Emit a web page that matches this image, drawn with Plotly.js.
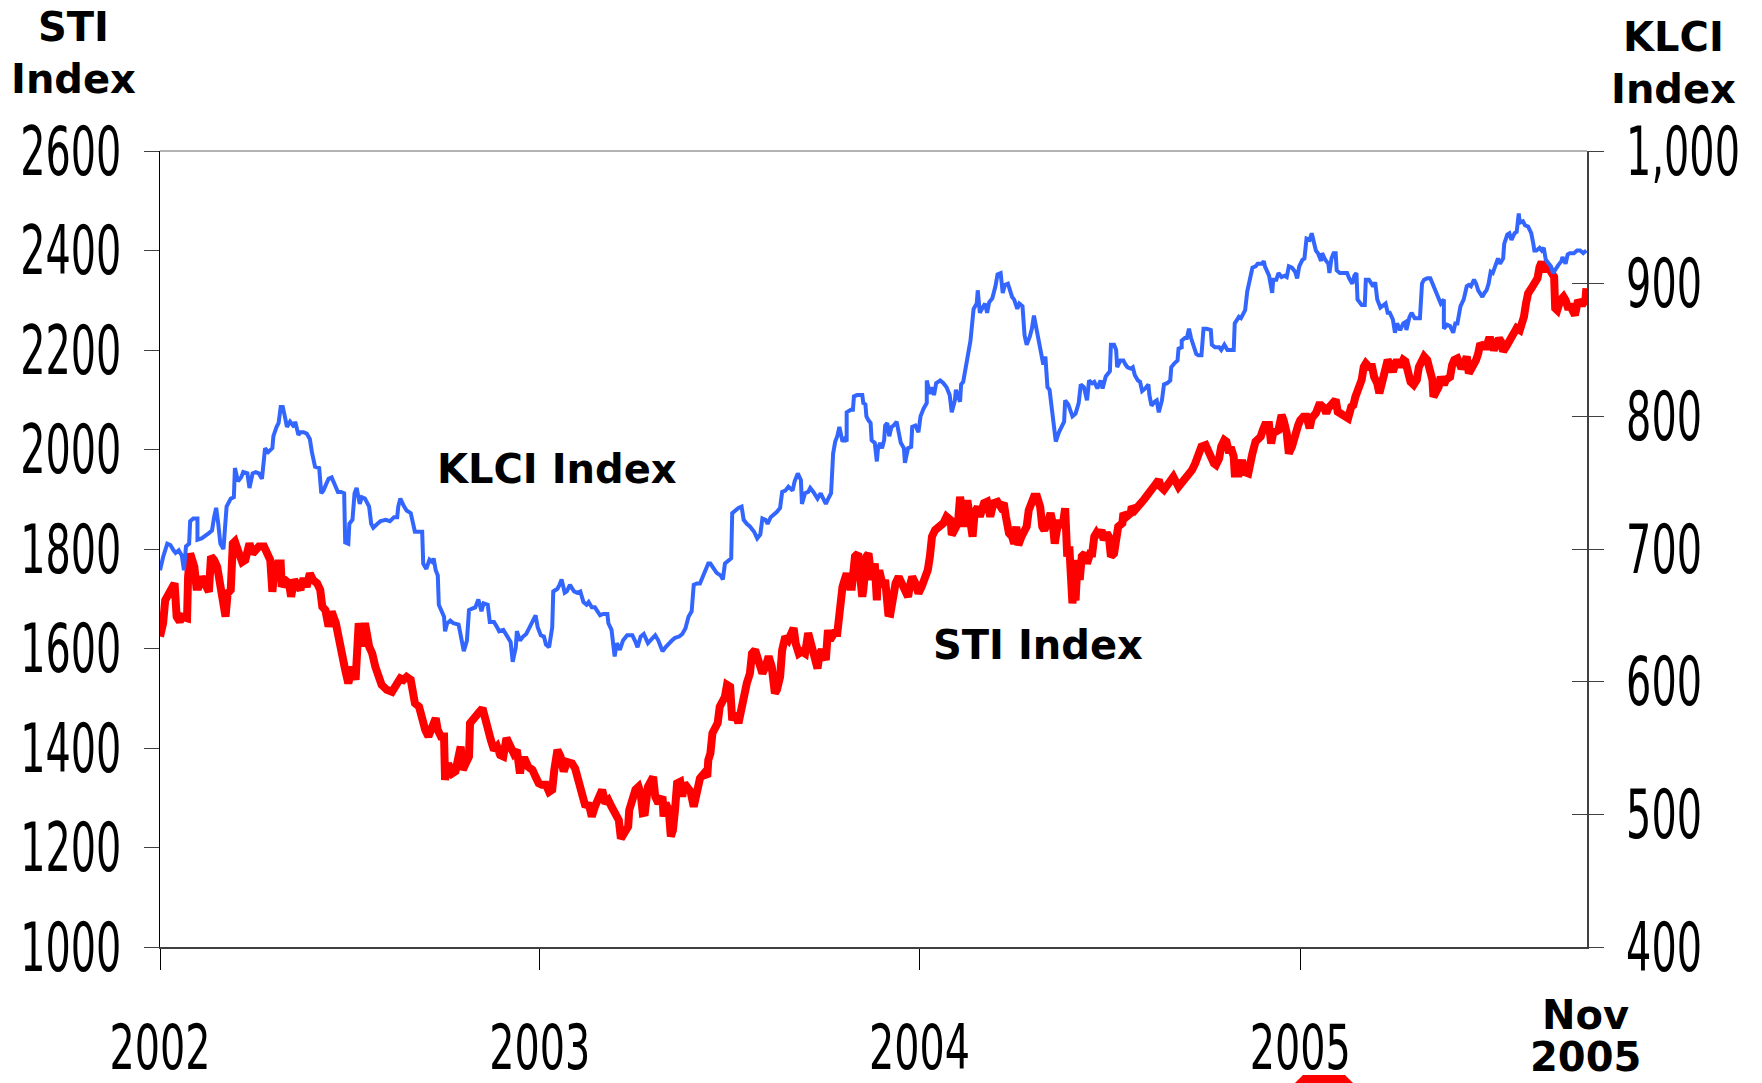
<!DOCTYPE html>
<html>
<head>
<meta charset="utf-8">
<script src="https://cdn.plot.ly/plotly-3.0.1.min.js"></script>
<style>
  html, body { margin: 0; padding: 0; background: #fff; }
  #chart { width: 1762px; height: 1083px; }
</style>
</head>
<body>
<div id="chart"></div>
<script>
// ---- Data ----
// Each point: [calendar days since 1 Jan 2002, index level]
const klciSeries = [
[0,684],[3,694],[7,704],[10,703],[13,699],[15,697],[18,699],[21,695],[23,684],[25,702],[28,704],[29,721],[32,723],[36,723],[36,707],[40,708],[47,712],[50,714],[52,724],[54,731],[56,719],[58,704],[61,700],[64,732],[68,738],[71,739],[72,761],[75,751],[78,754],[80,758],[84,757],[86,746],[89,757],[92,758],[95,757],[98,753],[101,776],[104,773],[108,776],[109,785],[112,792],[114,795],[116,807],[118,807],[120,800],[122,792],[125,796],[129,792],[130,796],[133,786],[135,788],[138,788],[141,787],[144,783],[146,773],[149,762],[153,761],[155,742],[157,744],[160,749],[162,753],[165,754],[169,747],[171,743],[174,743],[177,742],[178,705],[181,704],[182,719],[185,722],[187,742],[189,746],[192,734],[194,739],[197,738],[201,732],[203,719],[205,716],[209,719],[212,721],[217,722],[221,721],[225,724],[228,724],[229,732],
[231,738],[234,733],[237,729],[241,727],[243,718],[245,713],[252,713],[253,689],[256,685],[259,692],[262,690],[263,693],[265,684],[267,680],[268,658],[270,654],[273,649],[274,638],[276,644],[279,646],[282,644],[287,643],[289,634],[292,623],[295,631],[297,654],[300,655],[303,656],[306,662],[309,653],[311,659],[315,658],[317,645],[321,645],[324,641],[326,638],[330,639],[334,634],[337,630],[339,615],[342,626],[343,638],[346,631],[349,634],[352,636],[354,639],[358,646],[361,650],[363,641],[366,635],[369,634],[371,628],[374,626],[377,641],[378,668],[382,670],[384,673],[386,677],[389,667],[391,668],[394,673],[398,668],[401,667],[404,668],[407,660],[410,658],[412,660],[415,656],[418,656],[421,653],[423,650],[426,651],[430,651],[431,644],[434,639],[437,619],[439,629],[442,624],[445,631],[449,635],[454,635],[457,630],[459,626],[462,634],[465,636],
[469,629],[471,631],[474,634],[476,635],[479,631],[481,626],[483,623],[486,626],[489,629],[492,631],[495,633],[499,634],[502,636],[505,640],[508,649],[511,653],[513,673],[516,674],[519,674],[522,680],[524,684],[527,689],[529,689],[532,685],[535,682],[539,680],[541,677],[543,689],[547,692],[549,693],[550,727],[553,729],[556,731],[559,732],[561,722],[564,719],[567,717],[571,713],[574,708],[577,711],[579,723],[582,722],[584,719],[587,724],[590,726],[593,728],[596,731],[598,743],[601,744],[604,747],[608,744],[610,751],[613,757],[616,752],[617,734],[620,742],[623,743],[625,746],[628,743],[632,738],[635,742],[638,738],[640,734],[643,739],[645,742],
[647,772],[649,781],[651,785],[653,792],[656,781],[658,783],[660,781],[660,803],[664,805],[666,805],[667,815],[670,816],[675,816],[676,810],[678,809],[679,800],[681,797],[683,795],[684,782],[687,780],[689,766],[690,775],[692,780],[694,776],[696,782],[697,793],[699,795],[701,785],[703,792],
[705,793],[708,796],[710,787],[712,780],[715,776],[716,765],[719,776],[722,777],[723,792],[726,793],[729,788],[731,800],[734,806],[737,810],[737,827],[740,817],[742,822],[744,816],[746,825],[750,827],[753,825],[756,822],[759,816],[761,803],[764,812],[765,820],[769,811],[770,824],[772,826],[774,835],[776,842],[779,857],[782,881],[785,885],[786,895],[788,878],[790,881],[793,885],[795,878],[797,886],[800,889],[803,898],[805,907],[808,908],[810,893],[812,899],[815,900],[817,894],[819,890],[821,888],[824,881],[826,885],[829,883],[831,861],[833,854],[836,860],[838,866],[840,876],[842,868],[845,855],[847,850],[849,839],[851,845],[853,822],[855,820],[857,807],[859,795],[861,781],[864,788],[866,791],[869,796],[870,812],[873,809],[877,800],[880,802],[883,810],[885,824],[888,822],[891,812],[893,827],[896,825],[898,826],[901,821],[904,827],[906,821],[909,830],[913,834],[914,854],[917,854],[919,850],[920,837],[923,842],[926,842],[928,839],[930,837],[933,836],[935,837],
[937,831],[940,827],[942,826],[944,819],[947,821],[950,824],[951,816],[953,808],[956,811],[958,812],[960,803],[963,812],[965,824],[968,825],[971,827],[972,837],[975,840],[978,842],[979,851],[982,852],[982,857],[985,859],[987,859],[989,866],[991,859],[993,855],[996,847],[998,846],[1001,846],[1003,866],[1006,866],[1010,865],[1011,854],[1014,852],[1018,852],[1020,850],[1023,854],[1026,850],[1032,850],[1033,870],[1035,873],[1037,875],[1039,874],[1041,878],[1043,880],[1045,894],[1046,898],[1048,904],[1050,912],[1053,913],[1055,915],[1059,915],[1061,917],[1062,913],[1064,909],[1066,906],[1069,893],[1070,903],[1073,903],[1075,908],[1078,905],[1081,906],[1083,905],[1085,913],[1088,912],[1091,909],[1093,904],[1095,913],[1098,918],[1100,919],[1102,934],[1105,933],[1107,938],[1109,930],[1111,925],[1113,923],[1116,917],[1117,923],[1120,918],[1123,915],[1124,908],[1126,919],[1128,923],[1130,923],[1131,910],[1134,908],[1138,908],[1141,908],[1143,904],[1146,900],[1148,906],[1150,908],[1151,888],[1155,884],[1158,884],[1159,903],[1162,903],[1164,900],[1166,898],[1168,901],[1170,888],
[1173,882],[1175,883],[1178,885],[1180,878],[1182,878],[1185,873],[1187,863],[1189,870],[1192,865],[1195,870],[1197,871],[1198,865],[1201,875],[1203,878],[1206,874],[1211,874],[1213,900],[1215,903],[1218,904],[1221,904],[1224,898],[1226,895],[1228,890],[1231,885],[1234,888],[1234,866],[1237,869],[1240,868],[1243,863],[1245,870],[1247,870],[1250,883],[1253,888],[1256,898],[1258,899],[1260,898],[1263,903],[1265,900],[1267,895],[1271,890],[1273,893],[1275,895],[1277,900],[1279,909],[1281,908],[1283,913],[1286,919],[1288,915],[1291,919],[1292,930],[1295,937],[1297,938],[1299,933],[1302,938],[1304,939],[1306,953],[1307,946],[1310,947],[1312,944],[1315,943],[1318,938],[1320,930],[1321,925],[1323,925],[1326,927],[1328,925],[1330,927],[1332,918],[1335,915],[1337,913],[1339,908],[1342,912],[1344,914],[1347,917],[1348,920],[1351,915],[1353,922],[1355,923],[1359,923],[1362,925],[1365,925],[1368,923],[1371,925]
];

const stiSeries = [
[0,1624],[3,1651],[5,1697],[8,1711],[12,1724],[14,1731],[16,1664],[19,1654],[21,1664],[26,1661],[27,1744],[29,1791],[31,1778],[33,1764],[35,1724],[37,1724],[40,1744],[44,1731],[47,1714],[49,1785],[52,1778],[55,1764],[58,1731],[60,1691],[63,1664],[65,1711],[68,1718],[70,1811],[72,1815],[76,1791],[79,1774],[82,1778],[86,1811],[89,1791],[92,1798],[95,1805],[100,1805],[102,1798],[106,1778],[108,1714],[110,1758],[113,1771],[116,1771],[117,1724],[120,1738],[124,1731],[126,1704],[129,1738],[132,1731],[135,1718],[138,1741],[141,1724],[144,1751],[147,1738],[151,1731],[154,1718],[156,1684],[159,1677],[162,1644],[165,1674],[169,1651],[172,1614],[175,1600],[178,1557],[181,1530],[185,1563],[188,1537],[191,1651],[194,1604],[197,1651],[201,1604],[204,1590],[207,1563],[210,1543],[213,1527],[218,1517],[223,1513],[228,1530],[231,1540],
[234,1537],[237,1543],[241,1537],[243,1510],[245,1490],[249,1483],[252,1450],[255,1436],[258,1423],[262,1450],[265,1460],[267,1436],[270,1423],[273,1423],[274,1336],[277,1369],[281,1349],[284,1353],[286,1376],[289,1403],[291,1356],[294,1369],[297,1383],[298,1450],[302,1463],[306,1470],[310,1480],[313,1450],[315,1430],[318,1416],[321,1396],[324,1403],[327,1386],[330,1383],[333,1420],[336,1403],[340,1389],[343,1396],[346,1349],[348,1376],[351,1376],[354,1362],[358,1356],[361,1342],[364,1329],[367,1326],[371,1326],[374,1312],[377,1316],[379,1356],[382,1396],[385,1383],[388,1353],[391,1372],[396,1369],[399,1359],[402,1336],[407,1309],[409,1282],[412,1289],[415,1262],[418,1282],[422,1302],[425,1316],[428,1289],[431,1295],[434,1282],[438,1269],[441,1255],[443,1218],[446,1229],[450,1242],[451,1275],[454,1295],[457,1316],[460,1322],[462,1309],[464,1269],[466,1270],
[469,1322],[471,1329],[474,1342],[476,1302],[479,1289],[483,1302],[484,1262],[486,1289],[489,1275],[491,1222],[493,1235],[495,1275],[497,1329],[500,1332],[502,1302],[504,1329],[507,1322],[510,1312],[513,1282],[515,1302],[518,1316],[519,1339],[523,1349],[526,1342],[527,1376],[529,1389],[531,1430],[534,1440],[536,1450],[538,1483],[540,1490],[543,1503],[545,1527],[548,1523],[550,1456],[553,1470],[556,1450],[559,1483],[562,1523],[564,1530],[567,1550],[569,1590],[572,1597],[575,1570],[579,1550],[582,1563],[585,1584],[588,1563],[591,1510],[593,1517],[596,1543],[598,1597],[601,1624],[604,1617],[609,1641],[611,1610],[614,1590],[617,1594],[620,1590],[623,1631],[626,1604],[629,1590],[632,1560],[634,1590],[636,1597],[640,1577],[642,1637],[644,1617],[648,1631],[651,1631],[653,1684],[656,1724],[658,1738],[660,1751],[663,1724],[665,1724],[668,1785],[671,1791],[673,1744],[675,1704],[676,1718],[679,1785],[681,1791],[684,1738],[687,1771],[689,1697],[690,1751],[692,1751],[695,1724],[697,1738],[700,1671],[702,1670],
[705,1711],[707,1731],[710,1744],[713,1731],[716,1711],[719,1704],[721,1728],[723,1744],[726,1731],[729,1711],[732,1724],[736,1744],[738,1758],[740,1785],[742,1825],[745,1838],[749,1845],[753,1852],[756,1865],[760,1858],[761,1828],[764,1845],[767,1852],[769,1905],[771,1878],[773,1845],[776,1898],[778,1852],[781,1825],[783,1872],[786,1885],[788,1865],[792,1892],[795,1895],[798,1865],[801,1892],[805,1895],[808,1885],[811,1892],[813,1865],[816,1832],[819,1825],[821,1811],[823,1845],[825,1808],[828,1825],[830,1832],[833,1845],[835,1878],[838,1898],[840,1905],[843,1905],[846,1885],[848,1845],[850,1838],[853,1852],[856,1872],[858,1852],[860,1811],[862,1838],[864,1858],[866,1845],[868,1852],[870,1882],[872,1785],[874,1805],[877,1691],[878,1711],[880,1697],[882,1778],[884,1738],[886,1785],[889,1791],[891,1771],[894,1791],[896,1791],[898,1825],[900,1832],[902,1825],[905,1838],[907,1818],[910,1832],[912,1825],[914,1785],[917,1791],[919,1818],[921,1845],[925,1852],[926,1872],[929,1865],[933,1872],[934,1885],[937,1878],[946,1900],[949,1910],
[955,1925],[960,1939],[962,1925],[965,1919],[969,1932],[974,1945],[979,1925],[982,1932],[985,1942],[989,1952],[992,1959],[995,1972],[998,1992],[1001,2006],[1005,2009],[1007,1999],[1010,1979],[1013,1972],[1015,1969],[1018,1982],[1020,2006],[1023,2019],[1025,2016],[1027,1999],[1030,1999],[1032,1986],[1033,1952],[1037,1952],[1040,1979],[1042,1955],[1046,1952],[1048,1979],[1050,1992],[1053,2016],[1055,2019],[1058,2026],[1060,2039],[1062,2049],[1066,2049],[1068,2012],[1070,2033],[1073,2039],[1075,2039],[1078,2069],[1080,2059],[1083,2033],[1085,1992],[1088,2006],[1091,2033],[1094,2049],[1096,2059],[1099,2066],[1102,2066],[1105,2043],[1107,2063],[1111,2073],[1114,2089],[1116,2089],[1119,2083],[1121,2073],[1123,2083],[1126,2093],[1130,2100],[1132,2076],[1135,2073],[1139,2066],[1142,2063],[1145,2086],[1147,2089],[1149,2106],[1151,2120],[1154,2130],[1155,2140],[1157,2166],[1159,2173],[1162,2166],[1165,2166],[1167,2146],[1170,2133],[1172,2113],
[1176,2146],[1178,2173],[1180,2180],[1182,2173],[1185,2156],[1187,2170],[1189,2180],[1192,2166],[1195,2180],[1197,2177],[1200,2146],[1202,2136],[1205,2130],[1208,2140],[1210,2166],[1212,2180],[1215,2187],[1218,2180],[1220,2166],[1223,2140],[1224,2106],[1227,2120],[1229,2126],[1231,2146],[1234,2130],[1236,2140],[1240,2146],[1242,2170],[1244,2180],[1247,2183],[1249,2173],[1251,2163],[1254,2173],[1256,2187],[1258,2153],[1260,2160],[1263,2173],[1265,2180],[1267,2193],[1269,2213],[1272,2207],[1275,2207],[1277,2220],[1279,2220],[1282,2200],[1284,2213],[1287,2223],[1289,2217],[1291,2197],[1294,2207],[1296,2213],[1299,2227],[1301,2233],[1304,2244],[1307,2240],[1309,2250],[1311,2267],[1313,2294],[1315,2314],[1319,2327],[1321,2334],[1324,2344],[1326,2367],[1328,2377],[1331,2357],[1332,2367],[1335,2364],[1337,2357],[1340,2347],[1341,2284],[1343,2280],[1346,2300],[1349,2307],[1351,2300],[1353,2287],[1356,2287],[1358,2274],[1360,2270],[1363,2300],[1365,2294],[1368,2294],[1370,2300],[1371,2324]
];

const xTickDates  = ['2002-01-01', '2003-01-01', '2004-01-01', '2005-01-01'];
const xTickLabels = ['2002', '2003', '2004', '2005'];
const stiTicks    = [1000, 1200, 1400, 1600, 1800, 2000, 2200, 2400, 2600];
const klciTicks   = [400, 500, 600, 700, 800, 900, 1000];
const xStart = '2002-01-01';
const xEnd   = '2005-10-03 14:00';
const endMonth = 'Nov', endYear = '2005';

// ---- helpers ----
const toDate = d => new Date(Date.UTC(2002, 0, 1) + d * 86400000).toISOString().slice(0, 10);
const klciDates  = klciSeries.map(p => toDate(p[0]));
const klciValues = klciSeries.map(p => p[1]);
const stiDates   = stiSeries.map(p => toDate(p[0]));
const stiValues  = stiSeries.map(p => p[1]);

const W = 1762, H = 1083;
const M = { l: 160, r: 175, t: 151, b: 136 };
const PW = W - M.l - M.r, PH = H - M.t - M.b;
const px = x => (x - M.l) / PW;          // page pixel -> paper x
const py = y => (H - M.b - y) / PH;      // page pixel -> paper y

// tall, narrow tick numerals as in the reference
const SQUEEZE_Y = 0.585, SQUEEZE_X = 0.64;
const yTickFont = { family: 'DejaVu Sans, Verdana, sans-serif', size: 68, color: '#000' };
const xTickFont = { family: 'DejaVu Sans, Verdana, sans-serif', size: 62, color: '#000' };
const boldFont  = { family: 'DejaVu Sans, Verdana, sans-serif', size: 40, color: '#000', weight: 700 };

const traces = [
  {
    x: stiDates, y: stiValues, type: 'scatter', mode: 'lines', name: 'STI Index',
    line: { color: '#ff0000', width: 8, shape: 'linear' }, yaxis: 'y', hoverinfo: 'skip'
  },
  {
    x: klciDates, y: klciValues, type: 'scatter', mode: 'lines', name: 'KLCI Index',
    line: { color: '#3366ff', width: 4, shape: 'linear' }, yaxis: 'y2', hoverinfo: 'skip'
  },
  { x: [], y: [], type: 'scatter', mode: 'lines', yaxis: 'y3', hoverinfo: 'skip', showlegend: false }
];

const layout = {
  width: W, height: H,
  margin: M,
  paper_bgcolor: '#fff', plot_bgcolor: '#fff',
  showlegend: false,
  xaxis: {
    type: 'date', range: [xStart, xEnd],
    tickmode: 'array', tickvals: xTickDates, ticktext: xTickLabels,
    ticks: 'outside', ticklen: 21, tickwidth: 1, tickcolor: '#000',
    showline: true, linecolor: '#404040', linewidth: 2,
    showgrid: false, zeroline: false,
    tickfont: xTickFont, ticklabelstandoff: 25
  },
  yaxis: {
    range: [1000, 2600], tickmode: 'array', tickvals: stiTicks, ticktext: stiTicks.map(String),
    ticks: 'outside', ticklen: 15, tickwidth: 1, tickcolor: '#404040',
    showline: true, linecolor: '#000', linewidth: 1,
    showgrid: false, zeroline: false,
    tickfont: yTickFont, ticklabelstandoff: 9
  },
  yaxis2: {
    overlaying: 'y', side: 'right', anchor: 'x',
    range: [400, 1000], tickmode: 'array', tickvals: klciTicks,
    ticktext: klciTicks.map(v => v.toLocaleString('en-US')),
    ticks: 'outside', ticklen: 15, tickwidth: 1, tickcolor: '#404040',
    showline: true, linecolor: '#404040', linewidth: 1.5,
    showgrid: false, zeroline: false,
    tickfont: yTickFont, ticklabelstandoff: 9
  },
  yaxis3: {
    overlaying: 'y', side: 'right', anchor: 'x',
    range: [400, 1000], tickmode: 'array', tickvals: klciTicks,
    ticks: 'inside', ticklen: 15, tickwidth: 1, tickcolor: '#404040',
    showticklabels: false, showline: false, showgrid: false, zeroline: false
  },
  shapes: [
    { type: 'line', xref: 'paper', yref: 'paper', x0: 0, x1: 1, y0: 1, y1: 1,
      line: { color: '#9a9a9a', width: 1.5 } },
    { type: 'path', xref: 'paper', yref: 'paper',
      path: `M ${px(1303)} ${py(1075)} L ${px(1345)} ${py(1075)} L ${px(1356)} ${py(1086)} L ${px(1292)} ${py(1086)} Z`,
      fillcolor: '#ff0000', line: { width: 0 } }
  ],
  annotations: [
    { text: 'STI<br>Index', xref: 'paper', yref: 'paper', x: px(73), y: py(2), xanchor: 'center', yanchor: 'top',
      showarrow: false, font: boldFont, align: 'center' },
    { text: 'KLCI<br>Index', xref: 'paper', yref: 'paper', x: px(1673), y: py(12), xanchor: 'center', yanchor: 'top',
      showarrow: false, font: boldFont, align: 'center' },
    { text: endMonth, xref: 'paper', yref: 'paper', x: px(1585), y: py(1040), xanchor: 'center', yanchor: 'bottom',
      showarrow: false, font: boldFont },
    { text: endYear, xref: 'paper', yref: 'paper', x: px(1585), y: py(1082), xanchor: 'center', yanchor: 'bottom',
      showarrow: false, font: boldFont },
    { text: 'KLCI Index', xref: 'paper', yref: 'paper', x: px(557), y: py(469), xanchor: 'center', yanchor: 'middle',
      showarrow: false, font: boldFont },
    { text: 'STI Index', xref: 'paper', yref: 'paper', x: px(1038), y: py(645), xanchor: 'center', yanchor: 'middle',
      showarrow: false, font: boldFont }
  ]
};

function squeeze(gd, selector, s) {
  gd.querySelectorAll(selector).forEach(t => {
    const ax = parseFloat(t.getAttribute('x')) || 0;
    const tr = t.getAttribute('transform') || '';
    t.setAttribute('transform', `${tr} translate(${ax},0) scale(${s},1) translate(${-ax},0)`);
  });
}

Plotly.newPlot('chart', traces, layout, { staticPlot: true, displayModeBar: false })
  .then(gd => {
    squeeze(gd, 'g.xtick text', SQUEEZE_X);
    squeeze(gd, 'g.ytick text, g.y2tick text', SQUEEZE_Y);
  });
</script>
</body>
</html>
